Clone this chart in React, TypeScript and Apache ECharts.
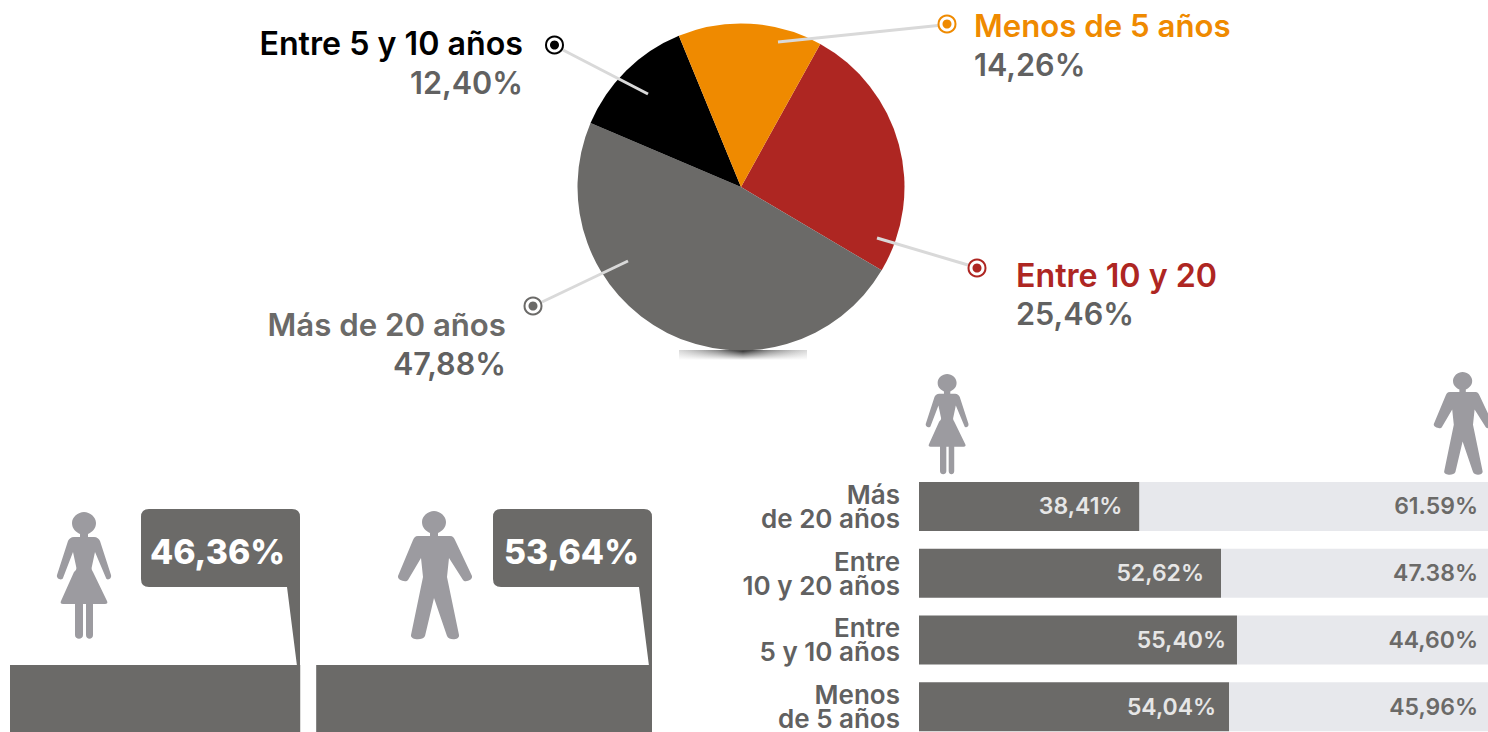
import React, { useEffect, useRef } from "react";
import * as echarts from "echarts";

const FONT = "Inter";
const DARK = "#6b6a68";
const LIGHT = "#e7e8ec";
const TEXT = "#616161";
const ICON = "#9c9ba0";

const pieNames = ["Entre 10 y 20", "Más de 20 años", "Entre 5 y 10 años", "Menos de 5 años"];
const pieValues = [25.46, 47.88, 12.4, 14.26];
const pieLabels = ["25,46%", "47,88%", "12,40%", "14,26%"];
const pieColors = ["#ae2622", "#6b6a68", "#000000", "#ef8a00"];

const barCategories = ["Más\nde 20 años", "Entre\n10 y 20 años", "Entre\n5 y 10 años", "Menos\nde 5 años"];
const womenValues = [38.41, 52.62, 55.4, 54.04];
const menValues = [61.59, 47.38, 44.6, 45.96];
const womenLabels = ["38,41%", "52,62%", "55,40%", "54,04%"];
const menLabels = ["61.59%", "47.38%", "44,60%", "45,96%"];
const womenLabelGaps = [17, 17, 11, 13];

const totalLabels = ["46,36%", "53,64%"];
const totalValues = [46.36, 53.64];
const totalGap = [2.55];

const WOMAN_D =
  "M28 0 C34 0 40 5 40 11 C40 17 36 20 32 22 L32 25 L38 25 C41 25 43 27 44 29 L55 63 C56 67 51 69 50 66 L39 40 L36 54 C35 57 36 58 37 60 L51 89 C52 91 51 92 49 92 L37 92 L37 123 C37 128 30 128 30 123 L30 92 L27 92 L27 123 C27 128 19 128 19 123 L19 92 L7 92 C5 92 4 91 5 89 L18 60 C20 58 21 57 20 54 L17 40 L7 66 C6 69 0 67 1 63 L12 29 C13 27 15 25 18 25 L24 25 L24 22 C20 20 16 17 16 11 C16 5 22 0 28 0 Z";
const MAN_D =
  "M37 0 C43 0 49 5 49 11 C49 17 45 20 41 22 L41 25 L53 25 C56 25 57 27 58 29 L75 65 C76 69 68 72 66 69 L52 47 L50 66 L62 124 C63 129 52 130 50 125 L37 87 L28 125 C26 130 13 129 14 124 L26 66 L24 47 L11 69 C9 72 0 69 1 65 L16 29 C17 27 18 25 21 25 L33 25 L33 22 C29 20 25 17 25 11 C25 5 31 0 37 0 Z";
const BUBBLE_D =
  "M8 0 H151 Q159 0 159 8 V157 H156 L146 78 H8 Q0 78 0 70 V8 Q0 0 8 0 Z";

echarts.graphic.registerShape("womanIcon", echarts.graphic.extendPath(WOMAN_D, {}) as any);
echarts.graphic.registerShape("manIcon", echarts.graphic.extendPath(MAN_D, {}) as any);
echarts.graphic.registerShape("bubble", echarts.graphic.extendPath(BUBBLE_D, {}) as any);

const label = (text: string, x: number, y: number, fill: string, align: string, fontSize: number, fontWeight = 600) => ({
  type: "text",
  x,
  y,
  z: 20,
  style: { text, fill, align, verticalAlign: "middle", fontFamily: FONT, fontSize, fontWeight },
});

const leader = (x1: number, y1: number, x2: number, y2: number) => ({
  type: "line",
  z: 10,
  shape: { x1, y1, x2, y2 },
  style: { stroke: "#d9d9d9", lineWidth: 3 },
});

const dot = (cx: number, cy: number, color: string) => [
  { type: "circle", z: 11, shape: { cx, cy, r: 8.5 }, style: { fill: "#fff", stroke: color, lineWidth: 2 } },
  { type: "circle", z: 12, shape: { cx, cy, r: 4.5 }, style: { fill: color } },
];

export default function App() {
  const ref = useRef<HTMLDivElement>(null);
  useEffect(() => {
    document.body.style.margin = "0";
    const chart = echarts.init(ref.current!, null, { renderer: "svg" });
    chart.setOption({
      animation: false,
      grid: [
        { left: 919, top: 473, width: 574, height: 267, outerBoundsMode: "none" },
        { left: 10, top: 665, width: 642, height: 80, outerBoundsMode: "none" },
      ],
      xAxis: [
        { gridIndex: 0, type: "value", min: 0, max: 100, show: false },
        { gridIndex: 1, type: "value", min: 0, max: totalValues[0] + totalValues[1] + totalGap[0], show: false },
      ],
      yAxis: [
        {
          gridIndex: 0,
          type: "category",
          inverse: true,
          data: barCategories,
          axisLine: { show: false },
          axisTick: { show: false },
          axisLabel: {
            margin: 19,
            color: TEXT,
            fontFamily: FONT,
            fontSize: 26,
            fontWeight: 600,
            lineHeight: 24,
            align: "right",
          },
        },
        { gridIndex: 1, type: "category", data: ["total"], show: false },
      ],
      series: [
        {
          type: "pie",
          center: [741, 187],
          radius: [0, 163.5],
          startAngle: 61,
          silent: true,
          label: { show: false },
          labelLine: { show: false },
          itemStyle: { borderWidth: 0 },
          data: pieNames.map((name, i) => ({ name, value: pieValues[i], itemStyle: { color: pieColors[i] } })),
        },
        {
          type: "bar",
          stack: "g",
          xAxisIndex: 0,
          yAxisIndex: 0,
          barWidth: 49,
          silent: true,
          itemStyle: { color: DARK },
          label: {
            show: true,
            position: "insideRight",
            color: "#e6e6e6",
            fontFamily: FONT,
            fontSize: 23,
            fontWeight: 600,
            formatter: (p: any) => womenLabels[p.dataIndex],
          },
          data: womenValues.map((value, i) => ({ value, label: { distance: womenLabelGaps[i] } })),
        },
        {
          type: "bar",
          stack: "g",
          xAxisIndex: 0,
          yAxisIndex: 0,
          barWidth: 49,
          silent: true,
          itemStyle: { color: LIGHT },
          label: {
            show: true,
            position: "insideRight",
            distance: 15,
            color: DARK,
            fontFamily: FONT,
            fontSize: 23,
            fontWeight: 600,
            formatter: (p: any) => menLabels[p.dataIndex],
          },
          data: menValues,
        },
        {
          type: "bar",
          stack: "t",
          xAxisIndex: 1,
          yAxisIndex: 1,
          barWidth: "100%",
          silent: true,
          itemStyle: { color: DARK },
          data: [totalValues[0]],
        },
        {
          type: "bar",
          stack: "t",
          xAxisIndex: 1,
          yAxisIndex: 1,
          barWidth: "100%",
          silent: true,
          itemStyle: { color: "rgba(0,0,0,0)" },
          data: totalGap,
        },
        {
          type: "bar",
          stack: "t",
          xAxisIndex: 1,
          yAxisIndex: 1,
          barWidth: "100%",
          silent: true,
          itemStyle: { color: DARK },
          data: [totalValues[1]],
        },
      ],
      graphic: [
        {
          type: "rect",
          z: 0,
          shape: { x: 679, y: 350, width: 128, height: 10 },
          style: {
            fill: new echarts.graphic.LinearGradient(0, 0, 1, 0, [
              { offset: 0, color: "rgba(190,190,190,0.6)" },
              { offset: 0.3, color: "rgba(120,120,120,0.9)" },
              { offset: 0.5, color: "rgba(30,30,30,1)" },
              { offset: 0.7, color: "rgba(120,120,120,0.9)" },
              { offset: 1, color: "rgba(190,190,190,0.6)" },
            ]),
          },
        },
        {
          type: "rect",
          z: 1,
          shape: { x: 679, y: 350, width: 128, height: 10 },
          style: {
            fill: new echarts.graphic.LinearGradient(0, 0, 0, 1, [
              { offset: 0, color: "rgba(255,255,255,0)" },
              { offset: 1, color: "rgba(255,255,255,1)" },
            ]),
          },
        },
        leader(563, 50, 648, 94),
        leader(938, 25.5, 778, 42),
        leader(968, 265, 877, 238),
        leader(542, 302, 628, 261),
        ...dot(554.5, 45, pieColors[2]),
        ...dot(947, 24, pieColors[3]),
        ...dot(977, 268, pieColors[0]),
        ...dot(533, 306, pieColors[1]),
        label(pieNames[2], 523, 43, "#000", "right", 32.2),
        label(pieLabels[2], 523, 82, TEXT, "right", 30.6),
        label(pieNames[3], 974, 26, pieColors[3], "left", 31.2),
        label(pieLabels[3], 974, 64, TEXT, "left", 30.6),
        label(pieNames[0], 1016, 275, pieColors[0], "left", 32.2),
        label(pieLabels[0], 1016, 313, TEXT, "left", 30.6),
        label(pieNames[1], 506, 325, pieColors[1], "right", 31.2),
        label(pieLabels[1], 506, 363, TEXT, "right", 30.6),
        { type: "bubble", x: 141, y: 509, z: 5, style: { fill: DARK } },
        { type: "bubble", x: 493, y: 509, z: 5, style: { fill: DARK } },
        label(totalLabels[0], 217.5, 551, "#fff", "center", 33.8, 800),
        label(totalLabels[1], 571.5, 551, "#fff", "center", 33.8, 800),
        { type: "womanIcon", x: 56, y: 512, z: 5, style: { fill: ICON } },
        { type: "manIcon", x: 397, y: 511, z: 5, style: { fill: ICON } },
        { type: "womanIcon", x: 925, y: 374, scaleX: 0.79, scaleY: 0.79, z: 5, style: { fill: ICON } },
        { type: "manIcon", x: 1433, y: 372, scaleX: 0.8, scaleY: 0.8, z: 5, style: { fill: ICON } },
      ],
    });
    return () => chart.dispose();
  }, []);
  return <div ref={ref} style={{ width: 1488, height: 732, overflow: "hidden" }} />;
}
